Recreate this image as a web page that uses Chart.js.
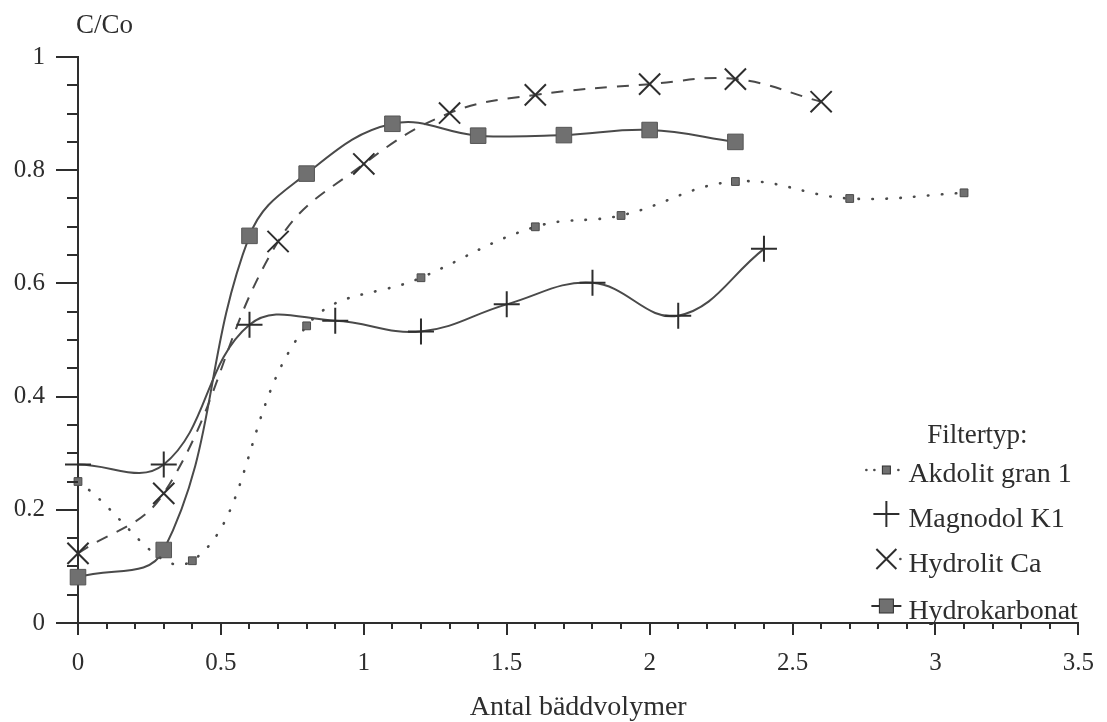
<!DOCTYPE html>
<html>
<head>
<meta charset="utf-8">
<script src="https://cdn.jsdelivr.net/npm/chart.js@4/dist/chart.umd.min.js"></script>
<style>
  body { margin: 0; background: #fff; }
  #wrap { width: 1107px; height: 722px; }
</style>
</head>
<body>
<div id="wrap"><canvas id="kurvor" width="1107" height="722"></canvas></div>
<script>
// Genombrott C/Co mot antal bäddvolymer, fyra filtertyper
const akdolitX = [0, 0.4, 0.8, 1.2, 1.6, 1.9, 2.3, 2.7, 3.1];
const akdolitY = [0.25, 0.11, 0.525, 0.61, 0.70, 0.72, 0.78, 0.75, 0.76];

const magnodolX = [0, 0.3, 0.6, 0.9, 1.2, 1.5, 1.8, 2.1, 2.4];
const magnodolY = [0.28, 0.28, 0.527, 0.534, 0.515, 0.563, 0.601, 0.543, 0.661];

const hydrolitX = [0, 0.3, 0.7, 1.0, 1.3, 1.6, 2.0, 2.3, 2.6];
const hydrolitY = [0.123, 0.229, 0.674, 0.811, 0.901, 0.933, 0.952, 0.961, 0.921];

const hydrokarbX = [0, 0.3, 0.6, 0.8, 1.1, 1.4, 1.7, 2.0, 2.3];
const hydrokarbY = [0.081, 0.129, 0.684, 0.794, 0.882, 0.861, 0.862, 0.871, 0.850];

const seriesNames = ['Akdolit gran 1', 'Magnodol K1', 'Hydrolit Ca', 'Hydrokarbonat'];
const xTicks = [0, 0.5, 1, 1.5, 2, 2.5, 3, 3.5];
const yTicks = [0, 0.2, 0.4, 0.6, 0.8, 1];
const xMinorStep = 0.1;
const yMinorStep = 0.05;

const SERIF = '"Liberation Serif", "DejaVu Serif", serif';
const INK = '#2e2e2e';
const LINE = '#4a4a4a';
const FILL = '#707070';

Chart.defaults.font.family = SERIF;
Chart.defaults.color = INK;

function toPoints(xs, ys) {
    return xs.map((x, i) => ({ x: x, y: ys[i] }));
}

// små skalstreck, axeltitel uppe till vänster och teckenförklaringen
const extras = {
    id: 'extras',
    afterDraw(chart) {
        const ctx = chart.ctx;
        const xs = chart.scales.x;
        const ys = chart.scales.y;
        const area = chart.chartArea;
        ctx.save();
        ctx.strokeStyle = INK;
        ctx.lineWidth = 2;

        ctx.beginPath();
        for (let v = 0; v <= 1.0001; v += yMinorStep) {
            const py = Math.round(ys.getPixelForValue(v));
            ctx.moveTo(area.left - 11, py);
            ctx.lineTo(area.left, py);
        }
        for (let v = 0; v <= 3.5001; v += xMinorStep) {
            const px = Math.round(xs.getPixelForValue(v));
            ctx.moveTo(px, area.bottom);
            ctx.lineTo(px, area.bottom + 6);
        }
        ctx.stroke();

        ctx.fillStyle = INK;
        ctx.font = '27px ' + SERIF;
        ctx.textBaseline = 'alphabetic';
        ctx.textAlign = 'left';
        ctx.fillText('C/Co', 76, 33);

        // teckenförklaring
        const lx = area.right - 192;
        const tx = area.right - 170;
        ctx.textAlign = 'center';
        ctx.font = '27px ' + SERIF;
        ctx.fillText('Filtertyp:', area.right - 101, area.bottom - 180);

        ctx.textAlign = 'left';
        ctx.font = '28px ' + SERIF;
        const rows = [area.bottom - 141, area.bottom - 96, area.bottom - 51, area.bottom - 4];
        rows.forEach((by, i) => ctx.fillText(seriesNames[i], tx, by));

        // Akdolit: prickar och liten kvadrat
        let cy = rows[0] - 12;
        ctx.fillStyle = LINE;
        [lx - 20, lx - 12, lx + 12].forEach(px => {
            ctx.beginPath();
            ctx.arc(px, cy, 1.3, 0, Math.PI * 2);
            ctx.fill();
        });
        ctx.fillStyle = FILL;
        ctx.fillRect(lx - 4, cy - 4, 8, 8);
        ctx.lineWidth = 1;
        ctx.strokeRect(lx - 4, cy - 4, 8, 8);

        // Magnodol: plus
        cy = rows[1] - 13;
        ctx.lineWidth = 2;
        ctx.beginPath();
        ctx.moveTo(lx - 13, cy); ctx.lineTo(lx + 13, cy);
        ctx.moveTo(lx, cy - 13); ctx.lineTo(lx, cy + 13);
        ctx.stroke();

        // Hydrolit: kryss
        cy = rows[2] - 13;
        ctx.beginPath();
        ctx.moveTo(lx - 10, cy - 10); ctx.lineTo(lx + 10, cy + 10);
        ctx.moveTo(lx + 10, cy - 10); ctx.lineTo(lx - 10, cy + 10);
        ctx.stroke();
        ctx.beginPath();
        ctx.arc(lx + 14, cy, 1.3, 0, Math.PI * 2);
        ctx.fillStyle = LINE;
        ctx.fill();

        // Hydrokarbonat: linje genom fylld kvadrat
        cy = rows[3] - 13;
        ctx.beginPath();
        ctx.moveTo(lx - 15, cy); ctx.lineTo(lx + 15, cy);
        ctx.stroke();
        ctx.fillStyle = FILL;
        ctx.fillRect(lx - 7, cy - 7, 14, 14);
        ctx.lineWidth = 1;
        ctx.strokeRect(lx - 7, cy - 7, 14, 14);

        ctx.restore();
    }
};

const ctx = document.getElementById('kurvor').getContext('2d');
new Chart(ctx, {
    type: 'line',
    data: {
        datasets: [
            {
                label: seriesNames[0],
                data: toPoints(akdolitX, akdolitY),
                borderColor: LINE,
                borderWidth: 2.6,
                borderDash: [0.5, 13.5],
                borderCapStyle: 'round',
                tension: 0.4,
                pointStyle: 'rect',
                pointRadius: 5.5,
                pointBackgroundColor: FILL,
                pointBorderColor: LINE,
                pointBorderWidth: 1,
                clip: false
            },
            {
                label: seriesNames[1],
                data: toPoints(magnodolX, magnodolY),
                borderColor: LINE,
                borderWidth: 2,
                tension: 0.4,
                pointStyle: 'cross',
                pointRadius: 13,
                pointBorderColor: INK,
                pointBorderWidth: 2,
                clip: false
            },
            {
                label: seriesNames[2],
                data: toPoints(hydrolitX, hydrolitY),
                borderColor: LINE,
                borderWidth: 2,
                borderDash: [12, 10],
                tension: 0.4,
                pointStyle: 'crossRot',
                pointRadius: 15,
                pointBorderColor: INK,
                pointBorderWidth: 2,
                clip: false
            },
            {
                label: seriesNames[3],
                data: toPoints(hydrokarbX, hydrokarbY),
                borderColor: LINE,
                borderWidth: 2,
                tension: 0.4,
                pointStyle: 'rect',
                pointRadius: 11,
                pointBackgroundColor: FILL,
                pointBorderColor: '#555',
                pointBorderWidth: 1,
                clip: false
            }
        ]
    },
    options: {
        responsive: false,
        animation: false,
        devicePixelRatio: 1,
        layout: { padding: { top: 57, right: 22, left: 0, bottom: 0 } },
        plugins: {
            legend: { display: false },
            tooltip: { enabled: false }
        },
        scales: {
            x: {
                type: 'linear',
                min: 0,
                max: 3.5,
                afterBuildTicks: s => { s.ticks = xTicks.map(v => ({ value: v })); },
                afterFit: s => { s.height = 99; },
                grid: {
                    drawOnChartArea: false,
                    drawTicks: true,
                    tickLength: 12,
                    color: INK,
                    lineWidth: 2
                },
                border: { display: true, color: INK, width: 2 },
                ticks: {
                    padding: 13,
                    font: { size: 25 },
                    color: INK,
                    maxRotation: 0,
                    callback: v => String(v)
                },
                title: {
                    display: true,
                    text: 'Antal bäddvolymer',
                    font: { size: 28, lineHeight: 1 },
                    color: INK,
                    padding: { top: 0, bottom: 0 }
                }
            },
            y: {
                type: 'linear',
                min: 0,
                max: 1,
                afterBuildTicks: s => { s.ticks = yTicks.map(v => ({ value: v })); },
                afterFit: s => { s.width = 78; },
                grid: {
                    drawOnChartArea: false,
                    drawTicks: true,
                    tickLength: 22,
                    color: INK,
                    lineWidth: 2
                },
                border: { display: true, color: INK, width: 2 },
                ticks: {
                    padding: 11,
                    font: { size: 25 },
                    color: INK,
                    callback: v => String(v)
                }
            }
        }
    },
    plugins: [extras]
});
</script>
</body>
</html>
